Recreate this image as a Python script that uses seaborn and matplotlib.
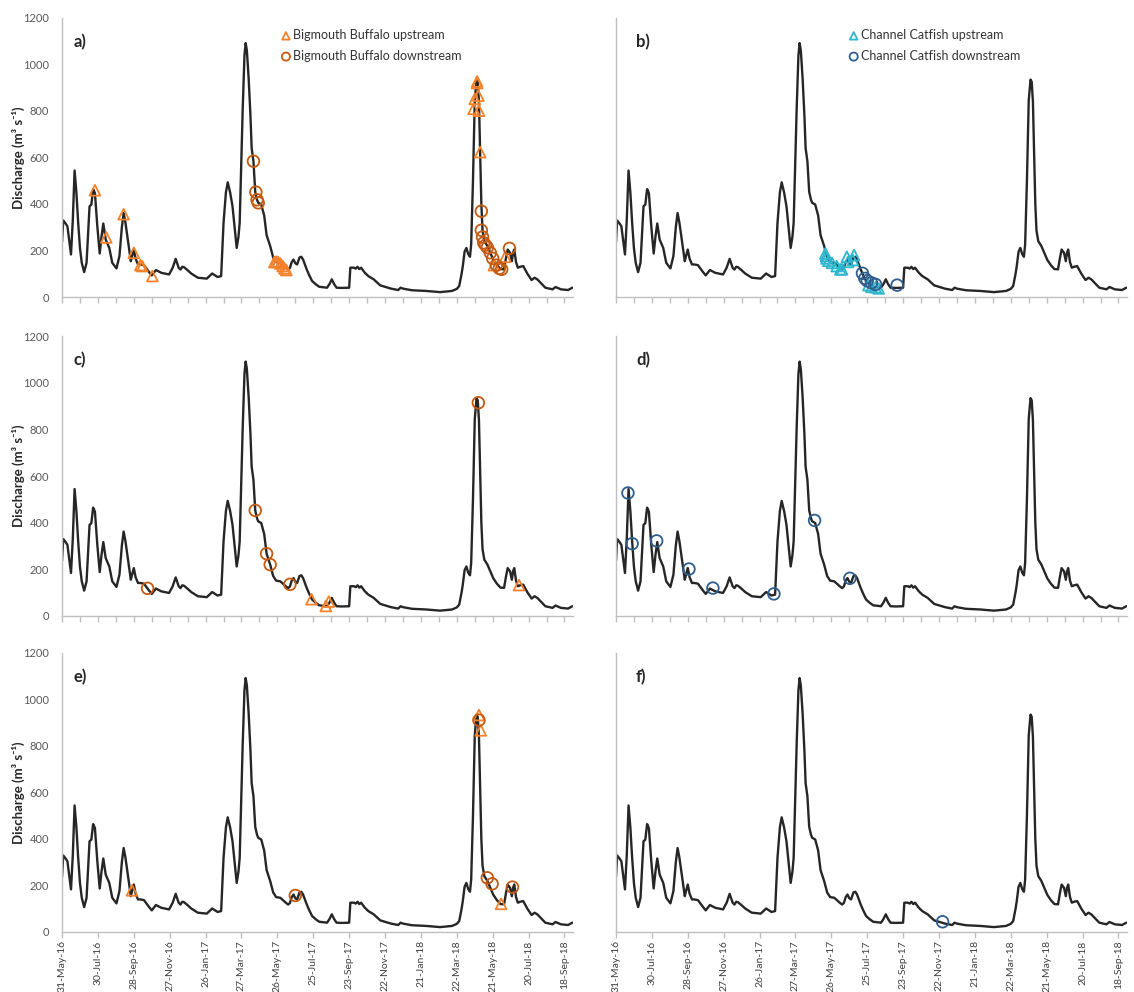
import numpy as np
import pandas as pd
import seaborn as sns
import matplotlib.pyplot as plt

sns.set_style('white')
plt.rcParams['font.family'] = ['Lato', 'DejaVu Sans']

start = pd.Timestamp('2016-05-31')

# daily discharge (days after 31-May-16, m3/s)
flow_day = [0, 2, 6, 9, 15, 18, 21, 24, 27, 30, 33, 37, 41, 46, 49, 52, 55, 59, 63, 66,
            69, 73, 79, 84, 91, 96, 100, 103, 106, 110, 115, 117, 120, 123, 127, 131, 137,
            145, 150, 157, 166, 179, 185, 190, 195, 198, 201, 204, 210, 216, 227, 242, 251,
            260, 266, 270, 274, 277, 281, 285, 289, 292, 295, 297, 300, 302, 305, 307, 309,
            312, 315, 317, 320, 323, 326, 328, 333, 338, 342, 348, 353, 358, 365, 374, 378,
            381, 384, 387, 390, 393, 397, 400, 403, 409, 413, 418, 424, 430, 443, 447, 451,
            455, 459, 468, 480, 482, 488, 491, 494, 497, 500, 506, 512, 521, 532, 545, 550,
            562, 566, 570, 585, 609, 632, 652, 660, 664, 668, 670, 673, 676, 679, 682, 684,
            687, 690, 693, 695, 697, 699, 701, 703, 706, 711, 716, 721, 727, 733, 739, 742,
            745, 749, 752, 754, 756, 759, 762, 766, 771, 778, 785, 790, 795, 799, 808, 820,
            825, 834, 846, 853]
flow_cms = [236, 329, 316, 304, 183, 330, 544, 450, 319, 210, 147, 107, 147, 390, 397, 464, 447, 304, 187, 260,
            316, 247, 211, 147, 123, 176, 300, 361, 320, 247, 154, 175, 204, 165, 140, 140, 137,
            109, 93, 116, 104, 97, 126, 164, 126, 118, 130, 128, 115, 101, 83, 79, 101,
            86, 90, 319, 450, 493, 450, 390, 290, 211, 260, 319, 620, 804, 1040, 1092, 1060,
            940, 780, 640, 584, 452, 418, 405, 398, 350, 266, 219, 170, 150, 147, 126, 118,
            125, 150, 161, 145, 140, 170, 173, 161, 119, 95, 69, 55, 44, 40, 55, 76,
            55, 40, 39, 40, 126, 126, 122, 130, 120, 126, 105, 90, 76, 50, 40, 36,
            30, 40, 36, 29, 26, 21, 26, 35, 47, 100, 133, 195, 211, 185, 173, 226,
            500, 845, 935, 925, 840, 620, 400, 285, 240, 220, 190, 160, 137, 120, 119, 165,
            204, 190, 154, 190, 204, 150, 126, 130, 133, 100, 73, 83, 75, 64, 40, 33,
            43, 33, 30, 40]

# detections: Bigmouth Buffalo
a_up_day = [55, 74, 103, 120, 131, 134, 151, 355, 358, 361, 365, 369, 372, 375,
            688, 690, 694, 694, 696, 697, 699, 722, 741]
a_up_val = [459, 256, 356, 190, 137, 133, 90, 150, 152, 151, 144, 133, 123, 116,
            809, 852, 927, 920, 866, 801, 623, 137, 173]
a_dn_day = [320, 324, 326, 328, 701, 701, 703, 705, 708, 711, 716, 720, 726, 731, 735, 748]
a_dn_val = [584, 451, 418, 405, 369, 287, 258, 233, 223, 213, 190, 166, 137, 123, 119, 209]

c_up_day = [417, 441, 446, 764]
c_up_val = [70, 41, 60, 131]
c_dn_day = [143, 323, 342, 348, 381, 696]
c_dn_val = [117, 452, 266, 219, 134, 915]

e_up_day = [117, 697, 700, 734]
e_up_val = [179, 933, 867, 121]
e_dn_day = [390, 697, 711, 719, 753]
e_dn_val = [157, 911, 233, 207, 193]

# detections: Channel Catfish
b_up_day = [350, 351, 352, 355, 361, 369, 375, 378, 386, 388, 396, 398, 422, 427, 434, 439]
b_up_val = [187, 176, 166, 156, 147, 133, 119, 119, 173, 151, 159, 180, 51, 44, 42, 37]
b_dn_day = [412, 416, 420, 427, 434, 470]
b_dn_val = [102, 80, 70, 61, 54, 51]

d_up_day, d_up_val = [], []
d_dn_day = [20, 27, 68, 122, 162, 264, 332, 391]
d_dn_val = [527, 309, 321, 200, 118, 93, 409, 160]

f_up_day, f_up_val = [], []
f_dn_day = [546]
f_dn_val = [44]


def to_date(days):
    return start + pd.to_timedelta(np.asarray(days), unit='D')


bb_up, bb_dn = '#F5822A', '#C55A11'
cc_up, cc_dn = '#2EB6CF', '#2F5F8F'

panels = [
    ('a)', 0, 0, a_up_day, a_up_val, a_dn_day, a_dn_val, bb_up, bb_dn, 'Bigmouth Buffalo'),
    ('b)', 0, 1, b_up_day, b_up_val, b_dn_day, b_dn_val, cc_up, cc_dn, 'Channel Catfish'),
    ('c)', 1, 0, c_up_day, c_up_val, c_dn_day, c_dn_val, bb_up, bb_dn, None),
    ('d)', 1, 1, d_up_day, d_up_val, d_dn_day, d_dn_val, cc_up, cc_dn, None),
    ('e)', 2, 0, e_up_day, e_up_val, e_dn_day, e_dn_val, bb_up, bb_dn, None),
    ('f)', 2, 1, f_up_day, f_up_val, f_dn_day, f_dn_val, cc_up, cc_dn, None),
]

fig = plt.figure(figsize=(11.34, 9.92), dpi=100)
lefts = [0.0547, 0.5432]
width = 0.451
bottoms = [0.7006, 0.3795, 0.0605]
height = 0.2813

flow_dates = to_date(flow_day)
grey = '#BFBFBF'

for lab, r, c, ud, uv, dd, dv, cu, cd, name in panels:
    ax = fig.add_axes([lefts[c], bottoms[r], width, height])
    sns.lineplot(x=flow_dates, y=flow_cms, ax=ax, color='#262626', lw=1.7, zorder=2)
    if len(ud):
        sns.scatterplot(x=to_date(ud), y=uv, ax=ax, marker='^', s=60, facecolor='none',
                        edgecolor=cu, linewidth=1.3, zorder=3,
                        label=(name + ' upstream') if name else None)
    if len(dd):
        sns.scatterplot(x=to_date(dd), y=dv, ax=ax, marker='o', s=70, facecolor='none',
                        edgecolor=cd, linewidth=1.3, zorder=3,
                        label=(name + ' downstream') if name else None)

    ax.set_xlim(start, to_date([855])[0])
    ax.set_ylim(0, 1200)
    ax.set_yticks(range(0, 1201, 200))
    ax.set_xlabel('')
    for s in ['top', 'right']:
        ax.spines[s].set_visible(False)
    for s in ['left', 'bottom']:
        ax.spines[s].set_color(grey)
        ax.spines[s].set_linewidth(1.0)

    if c == 0:
        ax.tick_params(axis='y', left=False, labelsize=8, labelcolor='#595959', pad=6)
        ax.set_ylabel('Discharge (m³ s⁻¹)', fontsize=9.5, fontweight='bold')
        ax.yaxis.set_label_coords(-0.072, 0.5)
    else:
        ax.tick_params(axis='y', left=False, labelleft=False)
        ax.set_ylabel('')

    if r < 2:
        ax.set_xticks(to_date(np.arange(0, 841, 30)))
        ax.set_xticklabels([])
    else:
        ticks = to_date(np.arange(0, 841, 60))
        ax.set_xticks(ticks)
        ax.set_xticklabels([t.strftime('%d-%b-%y') for t in ticks], rotation=90,
                           fontsize=7.5, color='#404040')
    ax.tick_params(axis='x', bottom=True, direction='out', length=4, width=1, color=grey,
                   pad=2)

    tx = 0.022 if c == 0 else 0.039
    ax.text(tx, 0.915, lab, transform=ax.transAxes, fontsize=12, fontweight='bold',
            va='center', ha='left')

    if name:
        ax.legend(loc='upper left', bbox_to_anchor=(0.428 if c == 0 else 0.455, 0.96),
                  frameon=False, fontsize=9, handletextpad=0.2, handlelength=0.8,
                  markerscale=0.7, labelspacing=0.7, borderaxespad=0, borderpad=0,
                  labelcolor='#333333')
    elif ax.get_legend() is not None:
        ax.get_legend().remove()

fig.savefig('out.png', dpi=100)
